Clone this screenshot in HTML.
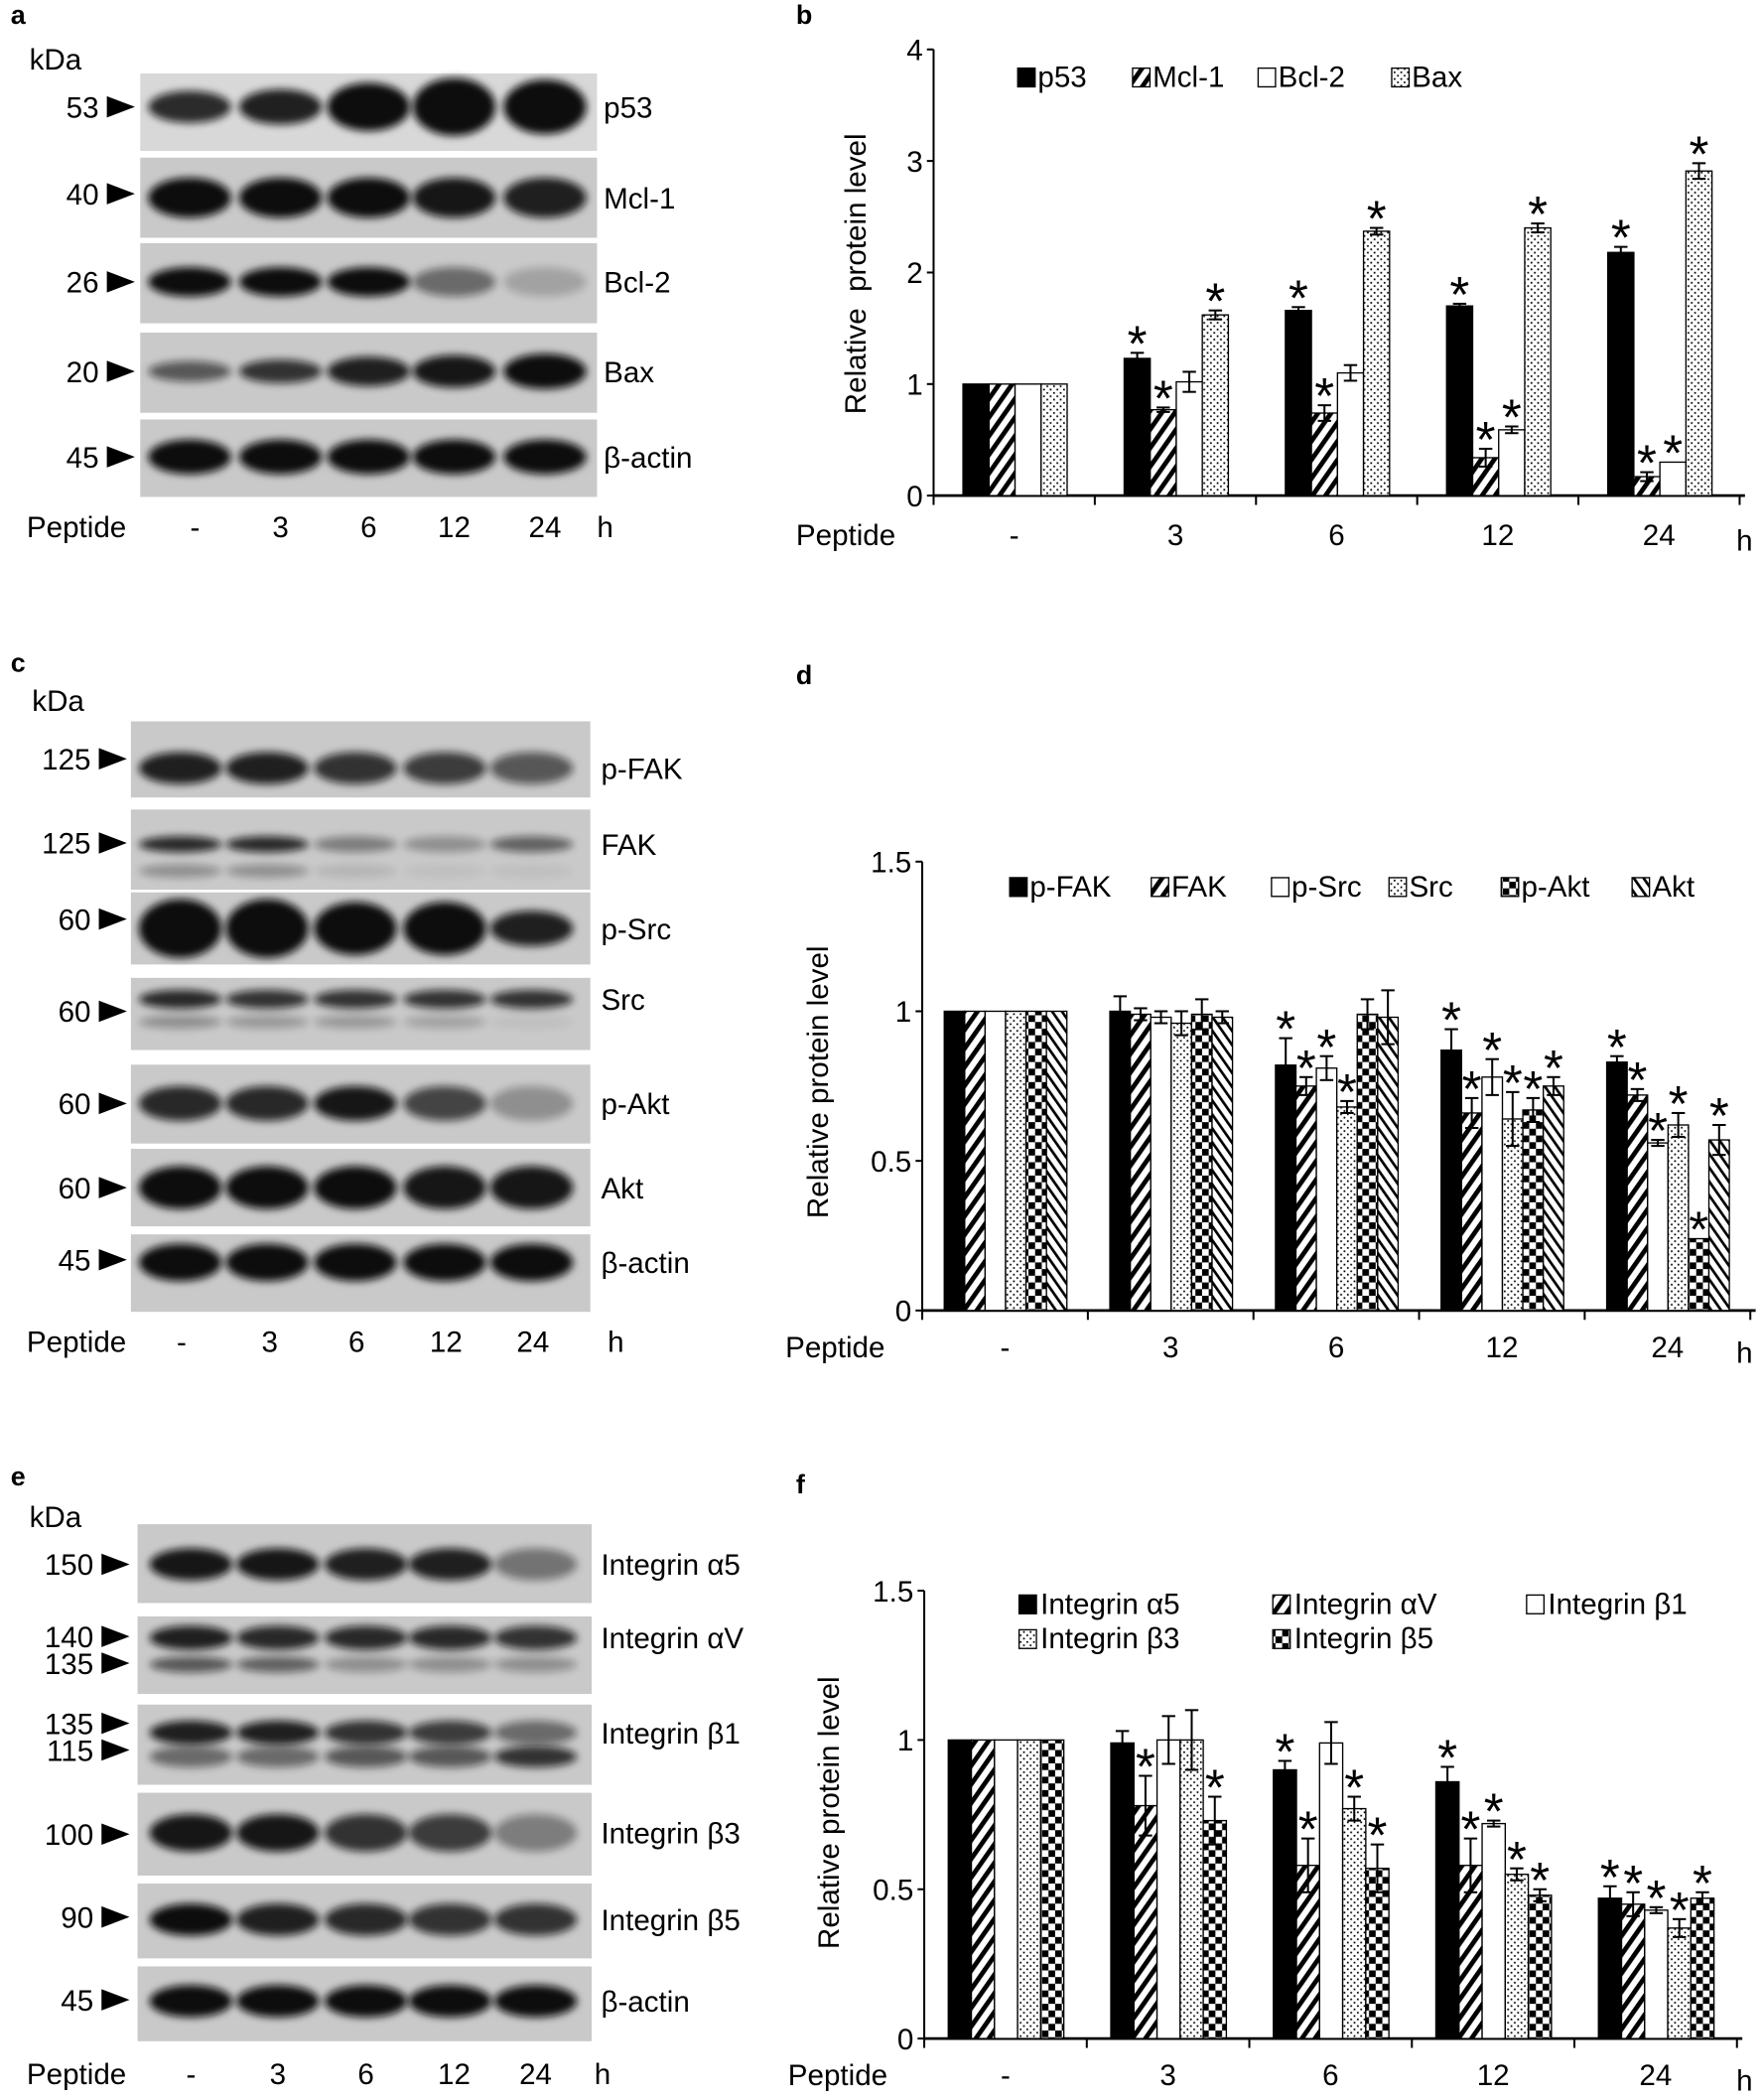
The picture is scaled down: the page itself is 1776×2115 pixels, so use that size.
<!DOCTYPE html>
<html><head><meta charset="utf-8"><style>
html,body{margin:0;padding:0;background:#fff;}
svg{display:block;}
text{font-family:"Liberation Sans",Arial,sans-serif;fill:#000;}
</style></head><body>
<svg id="s" width="1776" height="2115" viewBox="0 0 1320 1572" preserveAspectRatio="none" xmlns="http://www.w3.org/2000/svg">
<defs>
<filter id="bl" x="-30%" y="-80%" width="160%" height="260%"><feGaussianBlur stdDeviation="3"/></filter>
<pattern id="hatch" width="8" height="8" patternUnits="userSpaceOnUse" patternTransform="rotate(35)"><rect width="8" height="8" fill="#fff"/><rect width="3.5" height="8" fill="#000"/></pattern>
<pattern id="hatch2" width="6" height="6" patternUnits="userSpaceOnUse" patternTransform="rotate(-35)"><rect width="6" height="6" fill="#fff"/><rect width="2" height="6" fill="#000"/></pattern>
<pattern id="dots" width="5" height="5" patternUnits="userSpaceOnUse"><rect width="5" height="5" fill="#fff"/><rect x="1" y="1" width="1.3" height="1.3" fill="#000"/><rect x="3.5" y="3.5" width="1.3" height="1.3" fill="#000"/></pattern>
<pattern id="check" width="10" height="10" patternUnits="userSpaceOnUse"><rect width="10" height="10" fill="#fff"/><rect width="5" height="5" fill="#000"/><rect x="5" y="5" width="5" height="5" fill="#000"/></pattern>
</defs>
<g id="g"></g>
</svg>
<script>
var o='';
function T(x,y,s,fs,anc,extra){o+='<text x="'+x+'" y="'+y+'" font-size="'+(fs||22)+'" text-anchor="'+(anc||'start')+'" '+(extra||'')+'>'+s+'</text>';}
function L(x1,y1,x2,y2,w){o+='<line x1="'+x1+'" y1="'+y1+'" x2="'+x2+'" y2="'+y2+'" stroke="#000" stroke-width="'+(w||1.5)+'"/>';}
function R(x,y,w,h,f,sw){o+='<rect x="'+x+'" y="'+y+'" width="'+w+'" height="'+h+'" fill="'+f+'" stroke="#000" stroke-width="'+(sw||1)+'"/>';}
function arrow(x,y){o+='<polygon points="'+x+','+(y-8)+' '+(x+21)+','+y+' '+x+','+(y+8)+'" fill="#000"/>';}
function blot(x0,x1,lanes,rows,labX,numX){
 rows.forEach(function(r){
  o+='<rect x="'+x0+'" y="'+r.y0+'" width="'+(x1-x0)+'" height="'+(r.y1-r.y0)+'" fill="'+(r.bg||'#c9c9c9')+'"/>';
  var cy=r.cy||(r.y0+r.y1)/2;
  r.v.forEach(function(v,i){
   var rx=(r.rx||31), ry=(r.ry||11)*(r.sc?r.sc[i]:1);
   o+='<ellipse cx="'+lanes[i]+'" cy="'+cy+'" rx="'+rx+'" ry="'+ry+'" fill="#111" opacity="'+v+'" filter="url(#bl)"/>';
   if(r.v2) o+='<ellipse cx="'+lanes[i]+'" cy="'+(cy+r.d2)+'" rx="'+rx+'" ry="'+(r.ry2||7)+'" fill="#111" opacity="'+r.v2[i]+'" filter="url(#bl)"/>';
  });
  T(labX,cy+8,r.lab,22);
  r.k.forEach(function(k){T(numX,k[1]+8,k[0],22,'end');arrow(numX+6,k[1]);});
 });
}
T(8,18,'a',20,'start','font-weight="bold"');
T(22,52,'kDa',22);
blot(105,447,[142,210,276,340,408],[
 {y0:55,y1:113,bg:'#d8d8d8',lab:'p53',v:[.85,.9,1,1,1],ry:12,sc:[1,1.1,1.5,1.8,1.7],cy:80,k:[['53',80]]},
 {y0:118,y1:178,lab:'Mcl-1',v:[1,1,1,.95,.9],ry:15,k:[['40',145]]},
 {y0:182,y1:242,lab:'Bcl-2',v:[1,1,1,.5,.2],ry:11,cy:211,k:[['26',211]]},
 {y0:249,y1:309,lab:'Bax',v:[.6,.8,.9,.95,1],ry:11,sc:[.7,.8,1,1.1,1.2],cy:278,k:[['20',278]]},
 {y0:314,y1:372,lab:'β-actin',v:[1,1,1,1,1],ry:13,cy:342,k:[['45',342]]}
],452,74);
function pep(y,xs,hx){T(20,y,'Peptide',22);['-','3','6','12','24'].forEach(function(s,i){T(xs[i],y,s,22,'middle');});T(hx,y,'h',22);}
pep(402,[146,210,276,340,408],447);
T(8,503,'c',20,'start','font-weight="bold"');
T(24,532,'kDa',22);
blot(98,442,[135,200,266,333,398],[
 {y0:540,y1:597,lab:'p-FAK',v:[.9,.9,.8,.75,.6],ry:12,cy:575,k:[['125',568]]},
 {y0:606,y1:666,lab:'FAK',v:[.85,.85,.4,.3,.55],ry:6,cy:632,v2:[.3,.3,.1,.05,.05],d2:20,ry2:5,k:[['125',631]]},
 {y0:668,y1:722,lab:'p-Src',v:[1,1,1,1,.9],ry:22,sc:[1,1,.9,.9,.6],cy:695,k:[['60',688]]},
 {y0:732,y1:786,lab:'Src',v:[.85,.8,.8,.8,.8],ry:7,cy:748,v2:[.3,.25,.25,.2,.05],d2:17,ry2:5,k:[['60',757]]},
 {y0:797,y1:856,lab:'p-Akt',v:[.85,.85,.95,.7,.3],ry:13,cy:826,k:[['60',826]]},
 {y0:860,y1:918,lab:'Akt',v:[1,1,1,.95,.95],ry:16,cy:889,k:[['60',889]]},
 {y0:924,y1:982,lab:'β-actin',v:[1,1,1,1,1],ry:14,cy:945,k:[['45',943]]}
],450,68);
pep(1012,[136,202,267,334,399],455);
T(8,1112,'e',20,'start','font-weight="bold"');
T(22,1143,'kDa',22);
blot(103,443,[143,208,274,337,401],[
 {y0:1141,y1:1200,lab:'Integrin α5',v:[.95,.95,.9,.9,.45],ry:12,cy:1171,k:[['150',1171]]},
 {y0:1210,y1:1268,lab:'Integrin αV',v:[.9,.85,.85,.85,.8],ry:9,cy:1226,v2:[.6,.55,.3,.3,.3],d2:20,ry2:6,k:[['140',1225],['135',1245]]},
 {y0:1276,y1:1336,lab:'Integrin β1',v:[.9,.9,.8,.75,.5],ry:9,cy:1297,v2:[.5,.5,.6,.6,.8],d2:18,ry2:8,k:[['135',1290],['115',1310]]},
 {y0:1342,y1:1404,lab:'Integrin β3',v:[.95,.95,.8,.75,.4],ry:14,cy:1372,k:[['100',1373]]},
 {y0:1410,y1:1466,lab:'Integrin β5',v:[1,.9,.85,.8,.8],ry:12,cy:1437,k:[['90',1435]]},
 {y0:1472,y1:1528,lab:'β-actin',v:[1,1,1,1,1],ry:12,cy:1498,k:[['45',1497]]}
],450,70);
pep(1560,[143,208,274,340,401],445);

function chart(c){
 var ax=c.ax,y0=c.y0,sc=c.sc;
 c.ticks.forEach(function(t){var y=y0-t*sc;L(ax-5,y,ax,y);T(ax-8,y+8,t,22,'end');});
 L(ax,y0-c.ymax*sc,ax,y0);L(ax,y0,ax+5*c.gw+4,y0,2);
 for(var i=0;i<=5;i++){L(ax+i*c.gw,y0,ax+i*c.gw,y0+7);}
 var pats=c.pats;
 c.data.forEach(function(ser,s){
  ser.v.forEach(function(v,g){
   var x=ax+g*c.gw+c.off+s*c.bw, y=y0-v*sc;
   R(x,y,c.bw,v*sc,pats[s],1);
   if(g>0){var e=ser.e[g];var cx=x+c.bw/2;if(e>0){L(cx,y-e*sc,cx,y+e*sc,1.5);L(cx-5,y-e*sc,cx+5,y-e*sc,1.5);L(cx-5,y+e*sc,cx+5,y+e*sc,1.5);}
    if(ser.st[g]) T(cx,y-e*sc+6,'*',38,'middle');}
  });
 });
 T(c.px,c.ly,'Peptide',22);
 ['-','3','6','12','24'].forEach(function(s,i){T(ax+c.gw*(i+.5),c.ly,s,22,'middle');});
 T(Math.min(ax+5*c.gw+2,1300),c.ly+4,'h',22);
}
function sq(x,y,p){o+='<rect x="'+x+'" y="'+(y-14)+'" width="13" height="14" fill="'+p+'" stroke="#000" stroke-width="1"/>';}

T(596,18,'b',20,'start','font-weight="bold"');
chart({ax:699,y0:371,sc:83.5,ymax:4,ticks:[0,1,2,3,4],gw:120.7,off:22,bw:19.5,px:596,ly:408,
 pats:['#000','url(#hatch)','#fff','url(#dots)'],
 data:[{v:[1,1.23,1.66,1.70,2.18],e:[0,.05,.03,.02,.05],st:[0,1,1,1,1]},
       {v:[1,.77,.74,.34,.17],e:[0,.02,.07,.08,.04],st:[0,1,1,1,1]},
       {v:[1,1.02,1.10,.59,.30],e:[0,.09,.07,.03,0],st:[0,0,0,1,1]},
       {v:[1,1.62,2.37,2.40,2.91],e:[0,.04,.03,.04,.07],st:[0,1,1,1,1]}]});
o+='<text x="648" y="205" font-size="22" text-anchor="middle" transform="rotate(-90 648 205)">Relative&#160;&#160;protein level</text>';
sq(762,65,'#000');T(777,65,'p53',22);
sq(848,65,'url(#hatch)');T(863,65,'Mcl-1',22);
sq(942,65,'#fff');T(957,65,'Bcl-2',22);
sq(1042,65,'url(#dots)');T(1057,65,'Bax',22);

T(596,512,'d',20,'start','font-weight="bold"');
chart({ax:690.5,y0:981,sc:224,ymax:1.5,ticks:[0,0.5,1,1.5],gw:124,off:16.5,bw:15.3,px:588,ly:1016,
 pats:['#000','url(#hatch)','#fff','url(#dots)','url(#check)','url(#hatch2)'],
 data:[{v:[1,1.0,.82,.87,.83],e:[0,.05,.09,.07,.02],st:[0,0,1,1,1]},
       {v:[1,.99,.75,.66,.72],e:[0,.02,.03,.05,.02],st:[0,0,1,1,1]},
       {v:[1,.98,.81,.78,.56],e:[0,.02,.04,.06,.01],st:[0,0,1,1,1]},
       {v:[1,.96,.68,.64,.62],e:[0,.04,.02,.09,.04],st:[0,0,1,1,1]},
       {v:[1,.99,.99,.67,.24],e:[0,.05,.05,.04,0],st:[0,0,0,1,1]},
       {v:[1,.98,.98,.75,.57],e:[0,.02,.09,.03,.05],st:[0,0,0,1,1]}]});
o+='<text x="620" y="810" font-size="22" text-anchor="middle" transform="rotate(-90 620 810)">Relative protein level</text>';
var lx=[756,862,952,1040,1124,1222],ln=['p-FAK','FAK','p-Src','Src','p-Akt','Akt'],lp=['#000','url(#hatch)','#fff','url(#dots)','url(#check)','url(#hatch2)'];
for(var i=0;i<6;i++){sq(lx[i],671,lp[i]);T(lx[i]+15,671,ln[i],22);}

T(596,1118,'f',20,'start','font-weight="bold"');
chart({ax:692,y0:1526,sc:223.5,ymax:1.5,ticks:[0,0.5,1,1.5],gw:121.7,off:18,bw:17.3,px:590,ly:1561,
 pats:['#000','url(#hatch)','#fff','url(#dots)','url(#check)'],
 data:[{v:[1,.99,.90,.86,.47],e:[0,.04,.03,.05,.04],st:[0,0,1,1,1]},
       {v:[1,.78,.58,.58,.45],e:[0,.1,.09,.09,.04],st:[0,1,1,1,1]},
       {v:[1,1.0,.99,.72,.43],e:[0,.08,.07,.01,.01],st:[0,0,0,1,1]},
       {v:[1,1.0,.77,.55,.37],e:[0,.1,.04,.02,.03],st:[0,0,1,1,1]},
       {v:[1,.73,.57,.48,.47],e:[0,.08,.08,.02,.02],st:[0,1,1,1,1]}]});
o+='<text x="628" y="1357" font-size="22" text-anchor="middle" transform="rotate(-90 628 1357)">Relative protein level</text>';
sq(763,1208,'#000');T(779,1208,'Integrin α5',22);
sq(953,1208,'url(#hatch)');T(969,1208,'Integrin αV',22);
sq(1143,1208,'#fff');T(1159,1208,'Integrin β1',22);
sq(763,1234,'url(#dots)');T(779,1234,'Integrin β3',22);
sq(953,1234,'url(#check)');T(969,1234,'Integrin β5',22);

document.getElementById('g').innerHTML=o;
</script>
</body></html>
